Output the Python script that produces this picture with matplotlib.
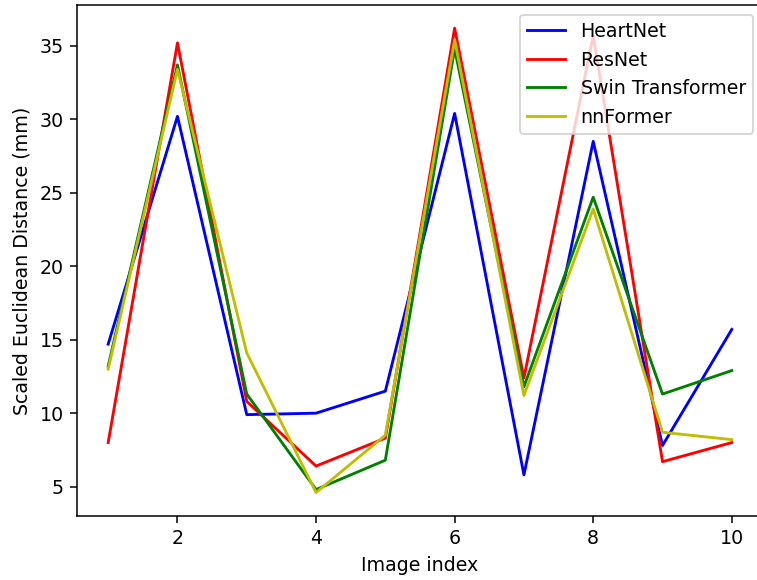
import matplotlib
matplotlib.use("Agg")
import matplotlib.pyplot as plt

image_index = [1, 2, 3, 4, 5, 6, 7, 8, 9, 10]
heartnet = [14.7, 30.2, 9.9, 10.0, 11.5, 30.4, 5.8, 28.5, 7.8, 15.7]
resnet = [8.0, 35.2, 10.8, 6.4, 8.3, 36.2, 12.4, 35.7, 6.7, 8.0]
swin = [13.2, 33.7, 11.3, 4.8, 6.8, 34.8, 11.8, 24.7, 11.3, 12.9]
nnformer = [13.0, 33.4, 14.1, 4.6, 8.5, 35.4, 11.2, 23.9, 8.7, 8.2]

fig = plt.figure(figsize=(757 / 137, 580 / 137), dpi=137)
ax = fig.add_axes([0.1017, 0.1103, 0.9062, 0.8811])

ax.plot(image_index, heartnet, 'b', label='HeartNet')
ax.plot(image_index, resnet, 'r', label='ResNet')
ax.plot(image_index, swin, 'g', label='Swin Transformer')
ax.plot(image_index, nnformer, 'y', label='nnFormer')

ax.set_xlim(0.55, 10.45)
ax.set_ylim(3.0, 37.78)
ax.set_xlabel('Image index')
ax.set_ylabel('Scaled Euclidean Distance (mm)')
ax.legend(loc='upper right')

fig.savefig('out.png', dpi=137)
